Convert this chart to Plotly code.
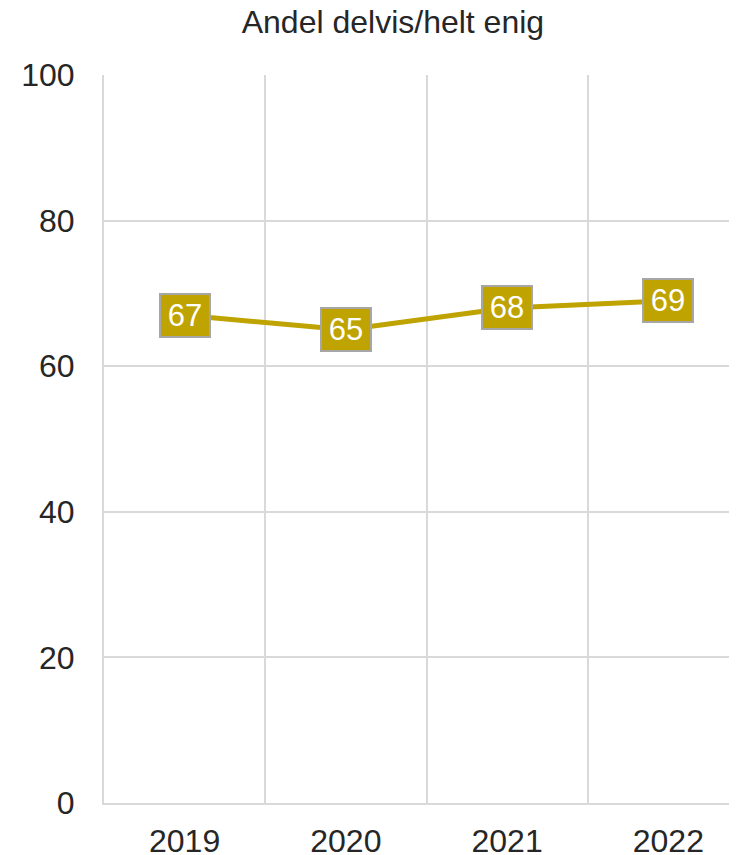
import plotly.graph_objects as go

years = ["2019", "2020", "2021", "2022"]
share_agree = [67, 65, 68, 69]
y_ticks = [0, 20, 40, 60, 80, 100]

GOLD = "#BFA300"
GRID = "#D9D9D9"
FONT = "Liberation Sans, Arial, sans-serif"

fig = go.Figure()
fig.add_trace(go.Scatter(
    x=years, y=share_agree, mode="lines",
    line=dict(color=GOLD, width=5),
    hoverinfo="skip", showlegend=False,
))

# value boxes; x given as category index so "2019" isn't read as a number
for i, v in enumerate(share_agree):
    fig.add_annotation(
        x=i, y=v, text=str(v), showarrow=False,
        font=dict(family=FONT, size=31, color="white"),
        bgcolor=GOLD, bordercolor="#A6A6A6", borderwidth=2,
        width=48, height=41, borderpad=0,
    )

# page body has an 8px margin, so the figure is sized to fit the window
fig.update_layout(
    width=729, height=847,
    margin=dict(l=96, r=0, t=67, b=52),
    paper_bgcolor="white", plot_bgcolor="white",
    font=dict(family=FONT, size=32, color="#262626"),
    title=dict(text="Andel delvis/helt enig", x=0.528, xanchor="center",
               y=0.9835, yanchor="middle", font=dict(size=32, color="#262626")),
)

# right edge of the original chart is cropped a little
fig.update_xaxes(
    type="category", range=[-0.5, 3.4256],
    tickson="boundaries", ticks="", automargin=False,
    showgrid=True, gridcolor=GRID, gridwidth=2,
    showline=True, linecolor=GRID, linewidth=2,
    ticklabelstandoff=9,
)
fig.update_yaxes(
    range=[0, 100], tickvals=y_ticks, ticks="", automargin=False,
    showgrid=True, gridcolor=GRID, gridwidth=2,
    zeroline=False, showline=True, linecolor=GRID, linewidth=2,
    ticklabelstandoff=21,
)

fig.write_html("out.html")
